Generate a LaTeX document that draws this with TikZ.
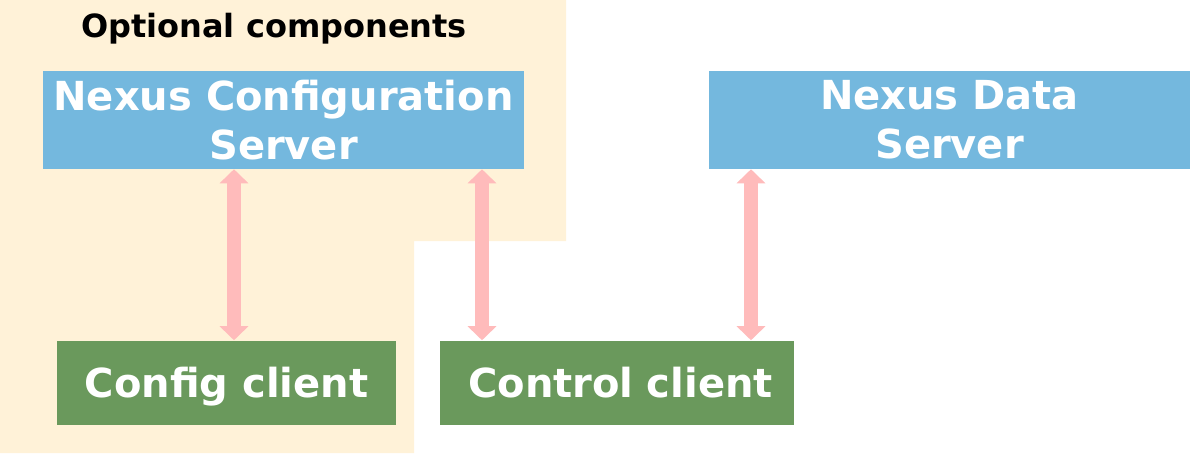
\documentclass[tikz,border=0pt]{standalone}
\usepackage{fontspec}
\setmainfont{DejaVu Sans}
\usetikzlibrary{arrows.meta}
\definecolor{optbg}{HTML}{FFF2D8}
\definecolor{srvblue}{HTML}{74B8DE}
\definecolor{cligreen}{HTML}{6A995C}
\definecolor{arrpink}{HTML}{FFBBBB}
\tikzset{
  srv/.style={fill=srvblue, draw=none, text=white, align=center, inner sep=0pt,
    minimum width=361pt, minimum height=73.5pt,
    font=\fontsize{30}{36.75}\selectfont\bfseries},
  cli/.style={fill=cligreen, draw=none, text=white, inner sep=0pt,
    minimum height=63pt, text height=22.8pt, text depth=0pt,
    font=\fontsize{30}{36}\selectfont\bfseries},
  conn/.style={draw=arrpink, line width=10.5pt,
    {Triangle[width=21pt,length=10.5pt]}-{Triangle[width=21pt,length=10.5pt]}},
  ttl/.style={font=\fontsize{24}{28}\selectfont\bfseries, anchor=base}
}
\begin{document}
\begin{tikzpicture}[x=0.75pt,y=-0.75pt]
\useasboundingbox (0,0) rectangle (1191,453);
% optional components background
\fill[optbg] (0,0) -- (566,0) -- (566,241) -- (414,241) -- (414,453) -- (0,453) -- cycle;
\node[ttl] (title) at (274,38) {Optional components};
% servers
\node[srv] (cs) at (283.5,120) {Nexus Configuration\\Server};
\node[srv] (ds) at (949.5,120) {Nexus Data\\Server};
% clients
\node[cli, minimum width=254.25pt] (cc) at (226.5,382.5) {Config client};
\node[cli, minimum width=265.5pt, text width=265.5pt, align=center] (ctl) at (616.5,382.5) {\hspace*{6pt}Control client};
% connectors
\coordinate (x1) at (234,0);
\coordinate (x2) at (482,0);
\coordinate (x3) at (751,0);
\draw[conn] (x1 |- cs.south) -- (x1 |- cc.north);
\draw[conn] (x2 |- cs.south) -- (x2 |- ctl.north);
\draw[conn] (x3 |- ds.south) -- (x3 |- ctl.north);
\end{tikzpicture}
\end{document}
